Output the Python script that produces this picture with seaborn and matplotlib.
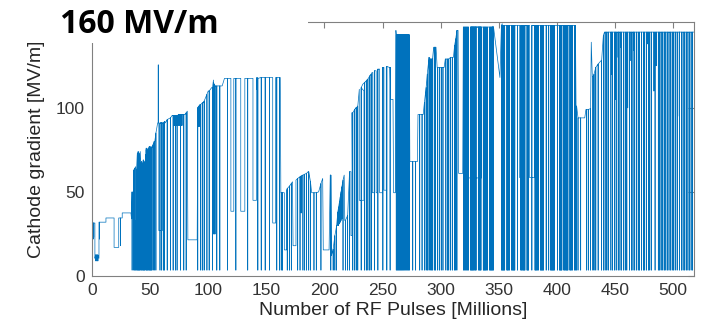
import matplotlib
matplotlib.use("Agg")
import matplotlib.pyplot as plt
from matplotlib.patches import Rectangle
import numpy as np
import pandas as pd
import seaborn as sns

# ---------------- data ----------------
# conditioning envelope (x: RF pulses [millions], y: gradient [MV/m])
env_x = [0, 2.5, 2.5, 6, 6, 12, 12, 19, 19, 23,
         23, 26, 26, 33.5, 34, 35.5, 36, 38.5, 39, 41.5,
         42, 46, 46.5, 52, 54, 56.5, 63, 69, 80, 82,
         82.5, 90.5, 91, 96, 100, 103, 104.5, 106, 112, 114,
         162, 162.5, 165.5, 165.5, 167.5, 167.5, 172.5, 173, 175.5, 175.5,
         180, 186, 189, 195, 198.5, 199, 204, 205, 206, 217,
         217.5, 220, 222, 223.5, 227, 230, 233, 237, 241, 246,
         254, 256, 257, 259, 259.5, 261, 261.5, 263, 273, 273.5,
         280, 280.5, 285, 290, 293, 294, 296, 297, 303, 304,
         311, 314, 315, 315.5, 319, 319.5, 345, 351, 353, 416,
         416.5, 419, 424, 425, 429, 429.6, 430.5, 433.5, 438, 440,
         441, 518]
env_y = [31.5, 31.5, 10.5, 10.5, 32, 32, 34.5, 34.5, 17, 17,
         34.5, 34.5, 37.5, 37.5, 34, 34, 63, 65, 73, 74,
         68, 69, 76, 77, 80, 91, 91, 95.5, 96, 98,
         21.5, 21.5, 100, 103, 110, 112, 116.5, 113, 113, 117.5,
         118, 49.5, 49.5, 15.5, 15.5, 51, 56, 18, 18, 57,
         59.5, 62, 49.5, 50, 58, 15.5, 15.5, 60, 12, 60,
         33, 36, 62, 97, 100, 111, 114, 117, 121, 123,
         124.5, 124, 105, 105, 49.5, 49.5, 146, 142, 143, 68,
         68, 96, 96, 130, 129, 136, 136, 124, 124, 129,
         130, 146, 146, 61, 61, 148, 148.5, 118, 150, 149,
         101, 94, 94, 99, 99.5, 139, 118.5, 124, 128, 143,
         145, 145]

# breakdown trips down to the floor, with the gradient they fell from
trip_floor = 3.5
trip_x = [34.5, 36.0, 36.8, 37.5, 38.2, 39.0, 39.7, 40.4, 41.1, 42.0,
          42.7, 43.4, 44.1, 44.8, 45.5, 46.5, 47.2, 47.9, 48.6, 49.3,
          50.0, 50.7, 51.4, 52.5, 53.5, 55.0, 58.5, 60.0, 61.5, 62.5,
          64.7, 67.5, 69.8, 71.8, 73.2, 76.1, 79.0, 81.0,
          91.0, 93.6, 95.0, 96.5, 98.9, 100.8, 103.7, 107.4, 110.0, 116.6,
          123.8, 134.0, 142.7, 145.6, 149.0, 152.8, 159.0, 161.4,
          162.8, 164.0, 168.0, 170.0, 171.5, 177.0, 179.0, 181.5, 183.0, 184.5,
          186.5, 188.0, 191.0, 193.0, 197.0,
          205.5, 207.5, 209.0, 210.5, 216.0, 218.0, 220.0, 221.6,
          224.4, 226.0, 227.3, 228.7, 231.6, 234.5, 236.0, 237.4, 239.0, 240.2,
          243.1, 246.0, 250.3, 253.7, 256.5,
          276.0, 278.5, 282.0, 284.0, 286.0, 287.5, 288.5, 290.0, 291.0, 292.0,
          293.0, 294.5, 295.5, 297.5, 299.0, 300.5, 302.0, 304.5, 306.0, 307.0,
          308.5, 310.0, 312.0, 313.0, 314.0,
          417.0, 418.2, 420.5, 425.5, 427.0, 429.0, 431.0, 432.0, 433.5, 435.5,
          438.5, 440.0]
trip_top = [50, 63, 64, 65, 62, 72, 74, 73, 70, 67,
            68, 66, 69, 67, 68, 75, 76, 74, 76, 77,
            75, 77, 76, 78, 80, 85, 91, 91, 91, 92,
            93, 94, 95.5, 95.5, 95.5, 96, 96, 97,
            100, 102, 103, 104, 108, 110, 112, 113, 113, 117.5,
            117.5, 117.5, 117.5, 118, 118, 118, 118, 118,
            49.5, 49.5, 52, 53.5, 55, 58, 59, 60, 60.5, 61,
            62, 56, 49.5, 49.5, 55,
            60, 16, 24, 30, 57, 33, 36, 62,
            97, 99, 100, 101, 112, 115, 116, 117, 119, 120,
            122, 123, 124, 124.5, 124,
            68, 68, 96, 96, 103, 112, 120, 130, 129, 129,
            129, 136, 136, 124, 124, 124, 124, 129, 129, 129,
            130, 130, 137, 141, 146,
            101, 94, 94, 99, 99, 99.5, 118.5, 120, 124, 126,
            128, 143]

# dense bursts of trips at a constant gradient
burst_g_level = 143.5
burst_g_x = [261.8, 262.6, 263.4, 264.2, 265.0, 265.8, 266.6, 267.4, 268.2, 269.0,
             269.8, 270.6, 271.4, 272.2, 273.0]
burst_i_level = 148
burst_i_x = [319.8, 320.6, 321.4, 322.2, 323.0, 323.8, 325.6, 326.3, 327.0, 327.7,
             328.4, 329.1, 329.8, 330.5, 332.6, 333.3, 334.0, 334.7, 336.7, 337.4,
             338.1, 338.8, 339.5, 340.2, 342.0, 342.7, 343.4, 344.1, 344.8, 345.5]
burst_j_level = 149
burst_j_x = [352.3, 353.0, 353.7, 354.4, 355.1, 357.0, 357.7, 358.4, 359.1,
             361.0, 361.7, 362.4, 363.1, 363.8, 366.2, 369.0, 369.7, 370.4,
             371.1, 371.8, 372.5, 374.3, 375.0, 375.7, 378.5, 381.2, 381.9,
             382.6, 383.3, 384.0, 385.8, 386.5, 387.2, 387.9, 388.6, 390.8,
             393.0, 394.5, 395.2, 395.9, 396.6, 397.3, 398.0, 400.5, 402.2,
             402.9, 403.6, 404.3, 406.0, 406.7, 407.4, 408.1, 408.8, 409.5,
             411.2, 411.9, 412.6, 413.3, 415.2, 415.9]
burst_l_level = 145
burst_l_x = [441.5, 443.0, 444.2, 446.5, 448.0, 449.6, 451.0, 452.8, 454.3,
             455.6, 457.2, 458.8, 460.2, 462.5, 464.3, 465.5, 467.0, 468.6,
             470.0, 471.2, 472.8, 474.4, 475.6, 477.2, 478.8, 480.0, 481.5,
             484.5, 487.3, 488.5, 489.7, 491.2, 492.5, 493.8, 495.2, 496.5,
             497.8, 499.2, 500.5, 501.8, 503.5, 505.5, 507.3, 508.6, 510.0,
             511.3, 512.8, 514.2, 515.5, 516.8]

# partial dips and excursions
# (start, level before, level reached, duration at that level)
dip_x = [0.5, 1.0, 1.5, 3.0, 3.7, 4.4, 5.1, 6.5, 24.5,
         37.5, 46.0, 57.0, 57.5,
         70.5, 71.3, 72.5, 73.7, 74.5, 75.3, 76.8, 77.5,
         91.7, 92.3, 93.0, 104.5, 105.2, 105.9,
         119.5, 128.0, 138.5, 142.0, 155.5, 180.0,
         211.5, 212.2, 212.9, 213.6, 214.3, 215.0,
         222.8, 230.0, 241.3, 244.5, 247.5, 251.2,
         324.0, 368.0, 376.5,
         447.0, 450.3, 452.7, 455.0, 461.0, 463.0, 466.0, 478.0, 483.5, 485.5,
         503.5, 505.3]
dip_top = [31.5, 31.5, 31.5, 12.5, 12.5, 12.5, 12.5, 32, 34.5,
           65, 72, 91, 91,
           95.5, 95.5, 95.5, 95.5, 96, 96, 96, 96,
           101, 101, 102, 115, 114, 113,
           117.5, 117.5, 117.5, 118, 118, 59.5,
           38, 41, 44, 47, 50, 53,
           62, 110, 121, 122, 123, 124,
           148, 149, 149,
           145, 145, 145, 145, 145, 145, 145, 145, 145, 145,
           145, 145]
dip_low = [22, 22, 23, 9, 9, 9, 9, 22, 18,
           33, 21, 125.5, 27,
           89.5, 89.5, 89.5, 89.5, 89.5, 89.5, 89.5, 89.5,
           89, 89, 89, 25, 25, 25,
           38.5, 38.5, 45, 111, 31.5, 37.5,
           30, 30, 31, 32, 33, 34,
           24, 45, 49.5, 49.5, 49.5, 51,
           58.3, 58.5, 58.5,
           120, 105, 130, 136, 100, 128, 134, 138, 110, 125,
           115, 95]
dip_len = [0, 0, 0, 0, 0, 0, 0, 0, 0,
           2.0, 2.5, 0, 3.0,
           0, 0, 0, 0, 0, 0, 0, 0,
           0, 0, 0, 0, 0, 0,
           2.5, 3.5, 3.0, 0, 2.5, 0,
           0, 0, 0, 0, 0, 0,
           1.0, 4.0, 1.5, 1.2, 2.5, 2.0,
           11.0, 3.5, 4.5,
           0, 0, 0, 0, 0, 0, 0, 0, 0, 0,
           0, 0]

x_ticks = [0, 50, 100, 150, 200, 250, 300, 350, 400, 450, 500]
y_ticks = [0, 50, 100]
title_text = "160 MV/m"
x_label = "Number of RF Pulses [Millions]"
y_label = "Cathode gradient [MV/m]"

# ---------------- assemble the trace ----------------
events = []
for x, y in zip(env_x, env_y):
    events.append((x, [(x, y)]))
for x, top in zip(trip_x, trip_top):
    events.append((x, [(x, top), (x, trip_floor), (x, top)]))
for xs, lvl in ((burst_g_x, burst_g_level), (burst_i_x, burst_i_level),
                (burst_j_x, burst_j_level), (burst_l_x, burst_l_level)):
    for x in xs:
        events.append((x, [(x, lvl), (x, trip_floor), (x, lvl)]))
for x, top, low, ln in zip(dip_x, dip_top, dip_low, dip_len):
    events.append((x, [(x, top), (x, low), (x + ln, low), (x + ln, top)]))
events.sort(key=lambda e: e[0])

px, py = [], []
for _, verts in events:
    for vx, vy in verts:
        px.append(vx)
        py.append(vy)
df = pd.DataFrame({"pulses": px, "gradient": py})

# ---------------- plot ----------------
sns.set_theme(style="white")
plt.rcParams["font.family"] = ["Liberation Sans", "DejaVu Sans"]

fig = plt.figure(figsize=(7.02, 3.31), dpi=100)
ax = fig.add_axes([92 / 702, 1 - 276 / 331, (694 - 92) / 702, (276 - 22) / 331])

sns.lineplot(data=df, x="pulses", y="gradient", sort=False, estimator=None,
             color="#0072BD", linewidth=0.5, ax=ax)

ax.set_xlim(0, 518)
ax.set_ylim(0, 151)
ax.set_xticks(x_ticks)
ax.set_yticks(y_ticks)
ax.set_xlabel(x_label, fontsize=14, color="#262626", labelpad=3)
ax.set_ylabel(y_label, fontsize=14, color="#262626", labelpad=8)
ax.tick_params(direction="in", length=4, width=0.8, colors="#808080",
               labelcolor="#333333", labelsize=12.5, top=True, right=True,
               pad=5)
for s in ax.spines.values():
    s.set_visible(True)
    s.set_color("#808080")
    s.set_linewidth(0.8)
ax.grid(False)

# white panel behind the big label (hides the top-left of the frame)
fig.patches.append(Rectangle((0, 1 - 43 / 331), 308 / 702, 43 / 331,
                             transform=fig.transFigure, facecolor="white",
                             edgecolor="none", zorder=10))
fig.text(60 / 702, 1 - 33 / 331, title_text, fontsize=23, fontweight="bold",
         family=["Open Sans", "DejaVu Sans"], color="black", zorder=11,
         ha="left", va="baseline")

fig.savefig("out.png", dpi=100)
